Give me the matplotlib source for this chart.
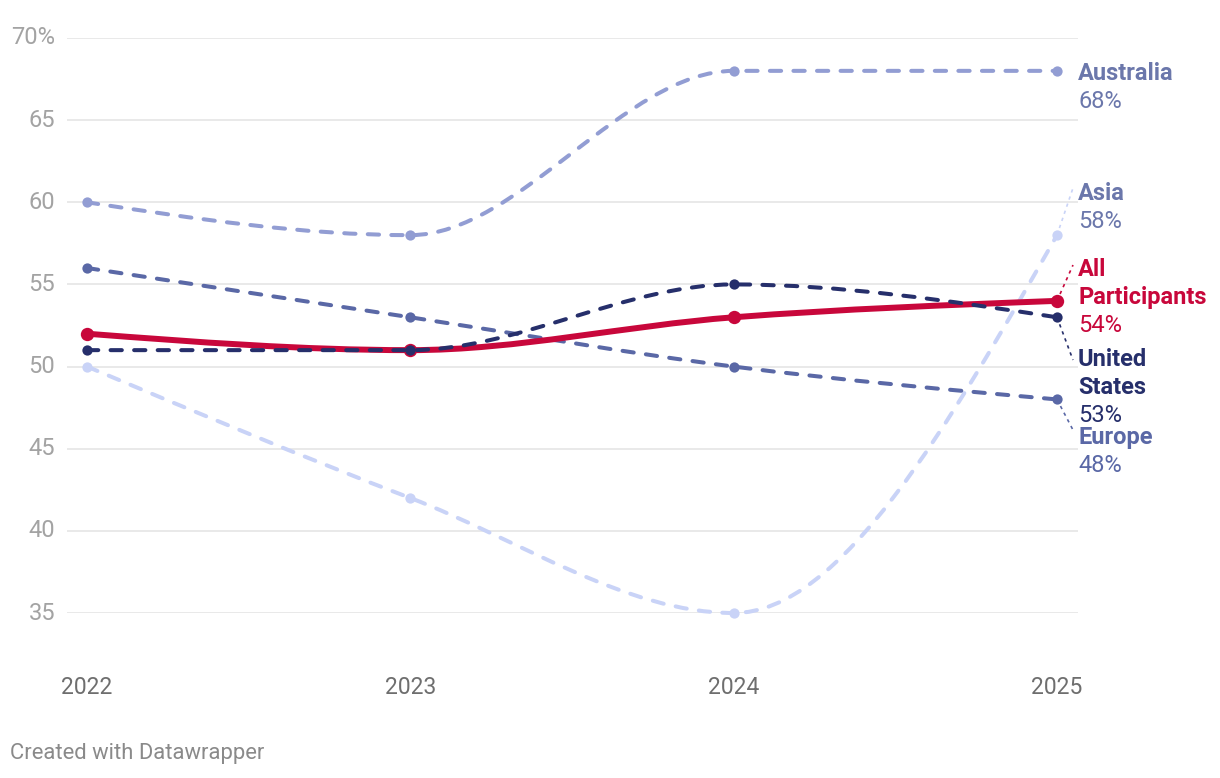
import numpy as np
import matplotlib
matplotlib.use('Agg')
import matplotlib.pyplot as plt
from matplotlib.path import Path
from matplotlib.patches import PathPatch

plt.rcParams['font.family'] = ['Roboto', 'DejaVu Sans']

years = [2022, 2023, 2024, 2025]
asia = [50, 42, 35, 58]
australia = [60, 58, 68, 68]
europe = [56, 53, 50, 48]
united_states = [51, 51, 55, 53]
all_participants = [52, 51, 53, 54]

y_ticks = [35, 40, 45, 50, 55, 60, 65, 70]
y_tick_labels = ['35', '40', '45', '50', '55', '60', '65', '70%']


def monotone_path(xs, ys):
    # d3 curveMonotoneX as cubic bezier segments
    xs = np.asarray(xs, float)
    ys = np.asarray(ys, float)
    n = len(xs)
    h = np.diff(xs)
    s = np.diff(ys) / h
    t = np.zeros(n)
    for i in range(1, n - 1):
        p = (s[i - 1] * h[i] + s[i] * h[i - 1]) / (h[i - 1] + h[i])
        t[i] = (np.sign(s[i - 1]) + np.sign(s[i])) * min(abs(s[i - 1]), abs(s[i]), 0.5 * abs(p))
    t[0] = (3 * s[0] - t[1]) / 2
    t[-1] = (3 * s[-1] - t[-2]) / 2
    verts = [(xs[0], ys[0])]
    codes = [Path.MOVETO]
    for i in range(n - 1):
        dx = (xs[i + 1] - xs[i]) / 3
        verts += [(xs[i] + dx, ys[i] + dx * t[i]),
                  (xs[i + 1] - dx, ys[i + 1] - dx * t[i + 1]),
                  (xs[i + 1], ys[i + 1])]
        codes += [Path.CURVE4] * 3
    return Path(verts, codes)


fig = plt.figure(figsize=(12.2, 7.78), dpi=100)
ax = fig.add_axes([67 / 1220, (778 - 613) / 778, (1078 - 67) / 1220, (613 - 38) / 778])
ax.set_xlim(2022 - 20 / 323.33, 2025 + 21 / 323.33)
ax.set_ylim(35, 70)
for sp in ax.spines.values():
    sp.set_visible(False)
ax.set_xticks([])
ax.set_yticks([])

for v, lab in zip(y_ticks, y_tick_labels):
    ax.axhline(v, color='#e3e3e3', lw=1.1, zorder=0)
    ax.text(-12 / 1011, v, lab, transform=ax.get_yaxis_transform(), ha='right', va='center',
            fontsize=17, color='#a3a3a3')

for yr in years:
    ax.annotate(str(yr), (yr, 35), xytext=(0, -54), textcoords='offset points',
                ha='center', va='center', fontsize=16.5, color='#6e6e6e', annotation_clip=False)

series = [
    ('Asia', asia, '#c9d3f7', '#6b77ab', 2.9, 3.7, 60.55, ['Asia']),
    ('Australia', australia, '#929dd3', '#6b77ab', 2.9, 3.7, 67.85, ['Australia']),
    ('Europe', europe, '#5a68a6', '#5a68a6', 2.9, 3.7, 45.7, ['Europe']),
    ('All Participants', all_participants, '#c8073b', '#c8073b', 4.3, 4.8, 55.92, ['All', 'Participants']),
    ('United States', united_states, '#262f6b', '#262f6b', 2.9, 3.7, 50.44, ['United', 'States']),
]
leader_y = {'Asia': 60.87, 'All Participants': 56.18, 'United States': 50.4, 'Europe': 46.14}

for z, (name, vals, col, tcol, lw, ms, ly, lines) in enumerate(series):
    patch = PathPatch(monotone_path(years, vals), fill=False, edgecolor=col, lw=lw,
                      capstyle='round', joinstyle='round', zorder=2 + z, clip_on=False)
    if name != 'All Participants':
        patch.set_linestyle((0, (2.8, 3.05)))
    ax.add_patch(patch)
    ax.plot(years, vals, 'o', color=col, ms=ms * 2, mew=0, zorder=2 + z, clip_on=False)
    if name in leader_y:
        ax.plot([years[-1], years[-1] + 16 / 323.33], [vals[-1], leader_y[name]], color=col,
                lw=1.2, ls=(0, (2, 2.5)), zorder=2 + z, clip_on=False)
    for k, line in enumerate(lines):
        ax.annotate(line, (1.0, ly), xycoords=('axes fraction', 'data'), xytext=(0, -20.2 * k),
                    textcoords='offset points', ha='left', va='center', fontsize=17,
                    fontweight='bold', color=tcol, annotation_clip=False)
    ax.annotate(f'{vals[-1]}%', (1.0, ly), xycoords=('axes fraction', 'data'),
                xytext=(0, -20.2 * len(lines)), textcoords='offset points', ha='left', va='center',
                fontsize=17, color=tcol, annotation_clip=False)

fig.text(10 / 1220, 1 - 753 / 778, 'Created with Datawrapper', ha='left', va='center',
         fontsize=15.8, color='#8a8a8a')

fig.savefig('out.png', dpi=100)
